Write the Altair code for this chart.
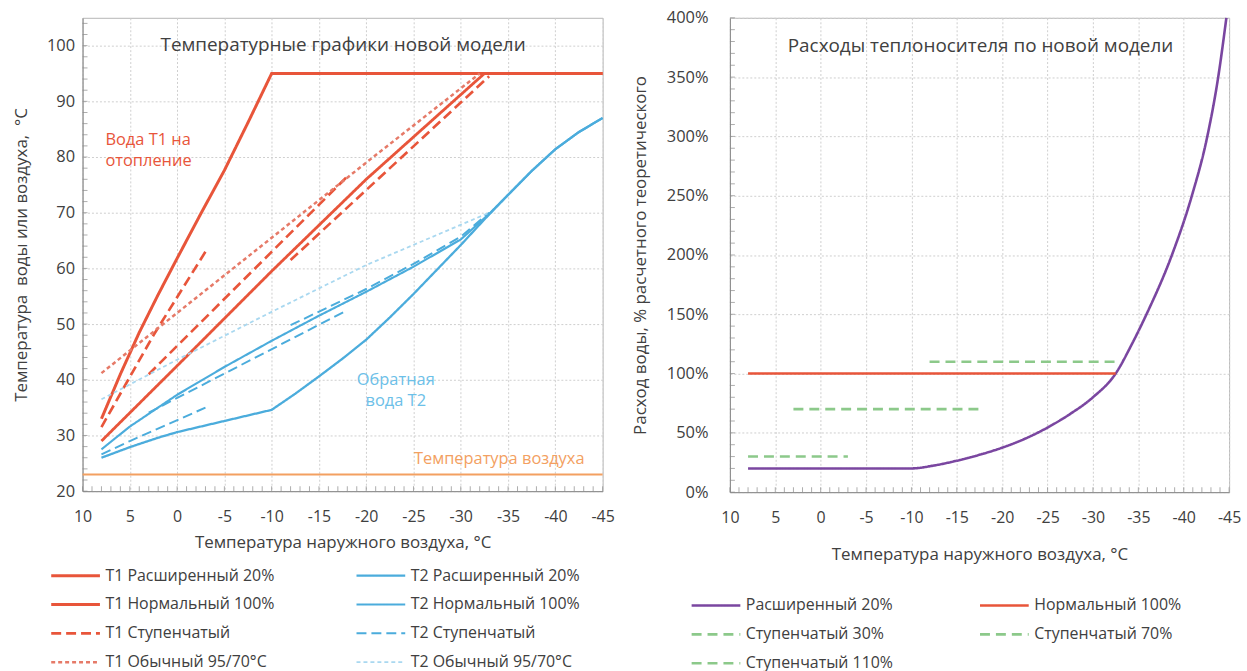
import altair as alt
import pandas as pd

# ---------------- data: supply / return temperature curves ----------------
T1_EXT_X = [8, 6, 4, 2, 0, -2.5, -5, -7.5, -10, -45]
T1_EXT_Y = [33, 41, 48.5, 55.3, 61.8, 69.8, 77.6, 86.2, 95, 95]

T1_NORM_X = [8, 0, -10, -20, -32.5, -45]
T1_NORM_Y = [29, 42.5, 59.5, 76, 95, 95]

T1_STEP1_X = [8, 2.5, -3]
T1_STEP1_Y = [31.5, 48, 63]
T1_STEP2_X = [3, -18]
T1_STEP2_Y = [41, 76.5]
T1_STEP3_X = [-12, -33]
T1_STEP3_Y = [61.5, 94.5]

T1_STD_X = [8, -10, -20, -32]
T1_STD_Y = [41.2, 65.5, 79, 95]

T2_EXT_X = [8, 5, 2, 0, -5, -10, -12.5, -15, -17.5, -20, -22.5, -25, -27.5, -30,
            -32.5, -35, -37.5, -40, -42.5, -45]
T2_EXT_Y = [26, 27.9, 29.6, 30.6, 32.6, 34.6, 37.5, 40.6, 43.8, 47.2, 51.2, 55.4, 59.8, 64.2,
            68.8, 73.2, 77.5, 81.4, 84.5, 87]

T2_NORM_X = [8, 5, 0, -5, -10, -15, -20, -25, -30, -33, -35, -37.5, -40, -42.5, -45]
T2_NORM_Y = [27.5, 31.6, 37.3, 42.3, 47, 51.5, 55.8, 60.3, 65.2, 69.8, 73.2, 77.5, 81.4, 84.5, 87]

T2_STEP1_X = [8, 5, -3]
T2_STEP1_Y = [26.6, 29, 35]
T2_STEP2_X = [3, -18]
T2_STEP2_Y = [34.1, 52.5]
T2_STEP3_X = [-12, -20, -25, -30, -33]
T2_STEP3_Y = [49.8, 56.3, 60.8, 65.7, 70]

T2_STD_X = [8, 0, -10, -20, -33]
T2_STD_Y = [36.5, 43.6, 52.2, 60.6, 70]

AIR_X = [10, -45]
AIR_Y = [23, 23]

# ---------------- data: relative water flow, % ----------------
FLOW_EXT_X = [8, -10, -12.5, -15, -17.5, -20, -22.5, -25, -27.5, -30, -32.5,
              -34.3, -35.9, -38.7, -40.9, -42.6, -43.8, -44.7]
FLOW_EXT_Y = [20, 20, 22.5, 26.5, 31.5, 37.5, 45, 54.5, 66, 80, 100,
              125, 150, 200, 250, 300, 350, 400]
FLOW_NORM_X = [8, -32.5]
FLOW_NORM_Y = [100, 100]
FLOW_S30_X = [8, -3]
FLOW_S30_Y = [30, 30]
FLOW_S70_X = [3, -18]
FLOW_S70_Y = [70, 70]
FLOW_S110_X = [-12, -33]
FLOW_S110_Y = [110, 110]

X_TICKS = [10, 5, 0, -5, -10, -15, -20, -25, -30, -35, -40, -45]
Y_TICKS_LEFT = list(range(20, 101, 10))
Y_TICKS_RIGHT = list(range(0, 401, 50))
MINOR_X = list(range(-45, 11))
MINOR_Y_LEFT = list(range(20, 106, 2))
MINOR_Y_RIGHT = list(range(0, 401, 10))

# series names (legend columns are filled top-to-bottom)
S_T1E, S_T2E = "T1 Расширенный 20%", "T2 Расширенный 20%"
S_T1N, S_T2N = "T1 Нормальный 100%", "T2 Нормальный 100%"
S_T1S, S_T2S = "T1 Ступенчатый", "T2 Ступенчатый"
S_T1O, S_T2O = "T1 Обычный 95/70°C", "T2 Обычный 95/70°C"
LEFT_ORDER = [S_T1E, S_T1N, S_T1S, S_T1O, S_T2E, S_T2N, S_T2S, S_T2O]

F_EXT, F_NORM = "Расширенный 20%", "Нормальный 100%"
F_S30, F_S70, F_S110 = "Ступенчатый 30%", "Ступенчатый 70%", "Ступенчатый 110%"
RIGHT_ORDER = [F_EXT, F_S30, F_S110, F_NORM, F_S70]

RED = "#E8553A"
PINK = "#E67A68"
BLUE = "#4BACDC"
LBLUE = "#A9D8F0"
ORANGE = "#F3A061"
PURPLE = "#7A46A0"
GREEN = "#8CC98A"
TXT = "#404040"
TICK = "#8a8a8a"
FONT = "Open Sans"


def table(parts):
    rows = []
    for series, seg, xs, ys in parts:
        for x, y in zip(xs, ys):
            rows.append({"series": series, "seg": seg, "t": x, "v": y})
    return pd.DataFrame(rows)


left_df = table([
    (S_T1E, "a", T1_EXT_X, T1_EXT_Y),
    (S_T2E, "b", T2_EXT_X, T2_EXT_Y),
    (S_T1N, "c", T1_NORM_X, T1_NORM_Y),
    (S_T2N, "d", T2_NORM_X, T2_NORM_Y),
    (S_T1S, "e1", T1_STEP1_X, T1_STEP1_Y),
    (S_T1S, "e2", T1_STEP2_X, T1_STEP2_Y),
    (S_T1S, "e3", T1_STEP3_X, T1_STEP3_Y),
    (S_T2S, "f1", T2_STEP1_X, T2_STEP1_Y),
    (S_T2S, "f2", T2_STEP2_X, T2_STEP2_Y),
    (S_T2S, "f3", T2_STEP3_X, T2_STEP3_Y),
    (S_T1O, "g", T1_STD_X, T1_STD_Y),
    (S_T2O, "h", T2_STD_X, T2_STD_Y),
])
air_df = table([("air", "air", AIR_X, AIR_Y)])

right_df = table([
    (F_EXT, "a", FLOW_EXT_X, FLOW_EXT_Y),
    (F_NORM, "b", FLOW_NORM_X, FLOW_NORM_Y),
    (F_S30, "c", FLOW_S30_X, FLOW_S30_Y),
    (F_S70, "d", FLOW_S70_X, FLOW_S70_Y),
    (F_S110, "e", FLOW_S110_X, FLOW_S110_Y),
])

W1, H1 = 523, 476
W2, H2 = 502, 477

x_scale = alt.Scale(domain=[-45, 10], reverse=True, nice=False, zero=False)
y1_scale = alt.Scale(domain=[20, 105], nice=False, zero=False)
y2_scale = alt.Scale(domain=[0, 400], nice=False, zero=False)

GRID = dict(grid=True, gridDash=[2, 2], gridColor="#cfcfcf", ticks=False, domainColor=TICK,
            titleFontWeight="normal")

ax_x1 = alt.Axis(values=X_TICKS, labelExpr="datum.value + ''", labelFlush=False,
                 title="Температура наружного воздуха, °C", labelFontSize=16,
                 labelPadding=18, titleFontSize=17, titlePadding=10, **GRID)
ax_y1 = alt.Axis(values=Y_TICKS_LEFT, title="Температура\u00a0 воды или воздуха,\u00a0 °C",
                 labelFontSize=16.5, labelPadding=8, titleFontSize=17, titlePadding=16, **GRID)
ax_x2 = alt.Axis(values=X_TICKS, labelExpr="datum.value + ''", labelFlush=False,
                 title="Температура наружного воздуха, °C", labelFontSize=16,
                 labelPadding=18, titleFontSize=17, titlePadding=21, **GRID)
ax_y2 = alt.Axis(values=Y_TICKS_RIGHT, labelExpr="datum.value + '%'",
                 title="Расход воды, % расчетного теоретического",
                 labelFontSize=16.5, labelPadding=22, titleFontSize=17, titlePadding=17, **GRID)


def minor_ticks(y_scale, y_values, h, ax_x, ax_y):
    # small inward tick marks along the bottom and left edges of the plot
    xt = alt.Chart(pd.DataFrame({"t": MINOR_X})).mark_tick(
        orient="vertical", size=5, thickness=1, color=TICK).encode(
        x=alt.X("t:Q", scale=x_scale, axis=ax_x), y=alt.value(h - 2.5))
    yt = alt.Chart(pd.DataFrame({"v": y_values})).mark_tick(
        orient="horizontal", size=5, thickness=1, color=TICK).encode(
        y=alt.Y("v:Q", scale=y_scale, axis=ax_y), x=alt.value(2.5))
    return [xt, yt]


def note(text_rows, color, size, align="center"):
    df = pd.DataFrame(text_rows, columns=["label", "px", "py"])
    return alt.Chart(df).mark_text(color=color, fontSize=size, align=align,
                                   baseline="middle", font=FONT).encode(
        x=alt.X("px:Q", scale=None), y=alt.Y("py:Q", scale=None), text="label:N")


def legend(lx, ly, col_pad):
    return alt.Legend(title=None, orient="none", legendX=lx, legendY=ly, columns=2,
                      symbolType="stroke", symbolSize=2400, labelFontSize=16,
                      labelColor=TXT, labelOffset=4, columnPadding=col_pad, rowPadding=11,
                      clipHeight=18, labelLimit=400, labelFont=FONT)


# ---------------- left panel ----------------
left_legend = legend(-33, 552, 81)

left_lines = alt.Chart(left_df).mark_line().encode(
    x=alt.X("t:Q", scale=x_scale, axis=ax_x1),
    y=alt.Y("v:Q", scale=y1_scale, axis=ax_y1),
    color=alt.Color("series:N", scale=alt.Scale(
        domain=LEFT_ORDER, range=[RED, RED, RED, PINK, BLUE, BLUE, BLUE, LBLUE]),
        legend=left_legend),
    strokeDash=alt.StrokeDash("series:N", scale=alt.Scale(
        domain=LEFT_ORDER,
        range=[[1, 0], [1, 0], [10, 5], [4, 3], [1, 0], [1, 0], [10, 5], [4, 3]]),
        legend=left_legend),
    strokeWidth=alt.StrokeWidth("series:N", scale=alt.Scale(
        domain=LEFT_ORDER, range=[3, 1.8, 2.2, 1.4, 3, 1.8, 2.2, 1.6]),
        legend=left_legend),
    detail="seg:N",
    order=alt.Order("t:Q", sort="descending"),
)

air_line = alt.Chart(air_df).mark_line(color=ORANGE, strokeWidth=2).encode(
    x=alt.X("t:Q", scale=x_scale, axis=ax_x1),
    y=alt.Y("v:Q", scale=y1_scale, axis=ax_y1),
)

left = alt.layer(
    left_lines,
    air_line,
    *minor_ticks(y1_scale, MINOR_Y_LEFT, H1, ax_x1, ax_y1),
    note([("Температурные графики новой модели", 262, 27)], TXT, 19),
    note([("Вода Т1 на", 23, 123), ("отопление", 23, 144)], RED, 16.5, "left"),
    note([("Обратная", 315, 364), ("вода Т2", 315, 385)], "#6CC0E8", 16.5),
    note([("Температура воздуха", 419, 444)], ORANGE, 16.5),
).properties(width=W1, height=H1)

# ---------------- right panel ----------------
right_legend = legend(-40, 582, 85)

right_lines = alt.Chart(right_df).mark_line(interpolate="monotone").encode(
    x=alt.X("t:Q", scale=x_scale, axis=ax_x2),
    y=alt.Y("v:Q", scale=y2_scale, axis=ax_y2),
    color=alt.Color("series:N", scale=alt.Scale(
        domain=RIGHT_ORDER, range=[PURPLE, GREEN, GREEN, RED, GREEN]), legend=right_legend),
    strokeDash=alt.StrokeDash("series:N", scale=alt.Scale(
        domain=RIGHT_ORDER, range=[[1, 0], [10, 6], [10, 6], [1, 0], [10, 6]]),
        legend=right_legend),
    strokeWidth=alt.StrokeWidth("series:N", scale=alt.Scale(
        domain=RIGHT_ORDER, range=[2.6, 2.6, 2.6, 2, 2.6]), legend=right_legend),
    detail="seg:N",
    order=alt.Order("t:Q", sort="descending"),
)

right = alt.layer(
    right_lines,
    *minor_ticks(y2_scale, MINOR_Y_RIGHT, H2, ax_x2, ax_y2),
    note([("Расходы теплоносителя по новой модели", 252, 28)], TXT, 19),
).properties(width=W2, height=H2)

chart = alt.hconcat(left, right, spacing=15).resolve_scale(
    color="independent", strokeDash="independent", strokeWidth="independent"
).properties(
    padding={"left": 12, "top": 7, "right": 5, "bottom": 5}
).configure(font=FONT).configure_axis(
    labelColor=TXT, titleColor=TXT, labelFont=FONT, titleFont=FONT
).configure_view(stroke="#b5b5b5")

chart.save("out.html", embed_options={"renderer": "svg", "actions": False})
